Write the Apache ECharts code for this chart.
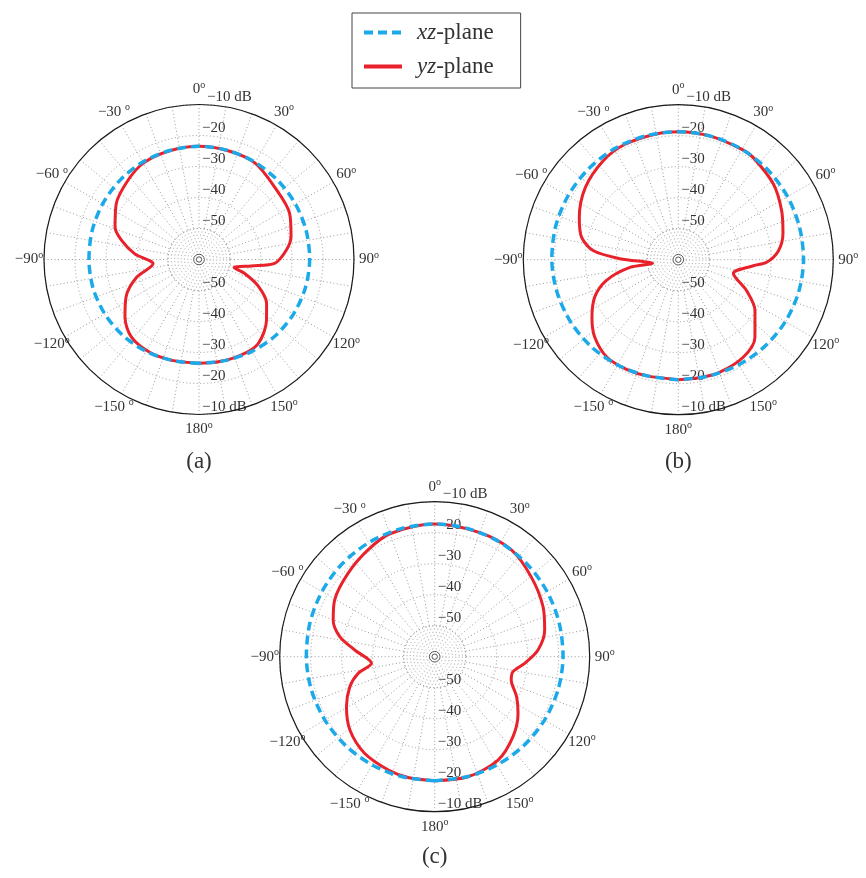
<!DOCTYPE html>
<html><head><meta charset="utf-8">
<script src="https://cdn.jsdelivr.net/npm/echarts@6/dist/echarts.min.js"></script>
<style>html,body{margin:0;padding:0;background:#fff}#c{width:866px;height:878px}</style>
</head><body><div id="c"></div>
<script>
// ---------------- data ----------------
const angleTicks = [-180,-150,-120,-90,-60,-30,0,30,60,90,120,150,180];
const angleTickLabels = ['180','\u2212150 ','\u2212120','\u221290','\u221260 ','\u221230 ','0','30','60','90','120','150','180'];
const radiusTicks = [-60,-50,-40,-30,-20,-10];
const radiusTickLabels = ['','\u221250','\u221240','\u221230','\u221220','\u221210 dB'];
const seriesNames = ['xz-plane','yz-plane'];
const captions = ['(a)','(b)','(c)'];

// xz-plane (dashed blue), sampled every 15 deg
const xzAngles = [-180,-165,-150,-135,-120,-105,-90,-75,-60,-45,-30,-15,0,15,30,45,60,75,90,105,120,135,150,165,180];
const xzA = [-26.5,-26.3,-25.8,-25.3,-24.9,-24.6,-24.5,-24.3,-24.1,-23.9,-23.7,-23.6,-23.5,-23.6,-23.8,-24.0,-24.1,-24.2,-24.3,-24.5,-24.8,-25.2,-25.8,-26.3,-26.5];
const xzB = [-21.3,-21.2,-20.8,-20.3,-19.9,-19.5,-19.2,-19.0,-18.9,-18.8,-18.7,-18.7,-18.7,-18.8,-18.9,-19.1,-19.3,-19.5,-19.6,-19.8,-20.1,-20.5,-20.9,-21.2,-21.3];
const xzC = [-20.0,-19.9,-19.7,-19.4,-19.1,-18.8,-18.6,-18.3,-18.0,-17.7,-17.5,-17.3,-17.2,-17.3,-17.5,-17.8,-18.1,-18.4,-18.6,-18.8,-19.1,-19.4,-19.7,-19.9,-20.0];

// yz-plane (solid red)
const yzAnglesA = [-180,-165,-152,-139,-128,-117,-106,-95.4,-85,-76,-69,-56,-42,-30,-15,0,15,30,46,63,76,84,93,97,103,107,114,123,132,145,157,170,180];
const yzA = [-26.5,-26.3,-26.1,-26.8,-29.7,-33.6,-39.0,-45.1,-39.2,-34.2,-31.0,-27.8,-25.7,-24.1,-23.7,-23.5,-23.7,-24.0,-26.2,-27.2,-29.4,-31.7,-35.6,-43.0,-48.4,-44.6,-39.2,-34.0,-30.7,-26.8,-26.3,-26.4,-26.5];
const yzAnglesB = [-180,-165,-155,-144,-133,-124,-114,-106,-99,-98,-89,-84,-77,-67,-52,-37,-25,-10,0,15,30,36,51.5,64.6,76,85,91.7,94.6,104,114.4,123.6,135.4,146.4,160,170,180];
const yzB = [-21.3,-21.2,-20.9,-21.0,-23.2,-26.4,-30.5,-35.9,-44.2,-51.6,-41.2,-32.5,-28.0,-25.3,-22.0,-19.9,-19.0,-18.8,-18.7,-18.8,-18.9,-19.1,-20.8,-23.1,-25.2,-27.6,-31.5,-35.7,-41.7,-35.8,-30.3,-24.8,-22.2,-21.3,-21.3,-21.3];
const yzAnglesC = [-180,-168,-158,-144,-131,-119.5,-109.4,-102.3,-96,-85.2,-78,-70.2,-60.5,-46,-32,-20,0,20,35.7,50.4,65.2,76.4,86.3,94.2,100.8,106.9,116,124.2,135.6,148.5,164.5,180];
const yzC = [-20.0,-20.1,-20.5,-21.5,-23.8,-27.3,-31.0,-34.7,-39.5,-34.1,-28.7,-25.2,-22.9,-21.2,-19.4,-17.8,-17.2,-17.4,-17.6,-19.6,-21.5,-23.5,-26.6,-30.9,-34.3,-34.2,-30.6,-27.5,-23.9,-20.9,-19.8,-20.0];

// ---------------- layout / style ----------------
const FONT = '"Liberation Serif", "DejaVu Serif", serif';
const TXT = '#333';
const BLUE = '#1ba9ea', RED = '#e8212b';
const GRID = '#9a9a9a';
const R = 155;
const plots = [
  {center:[199,259.5], xz:xzA, yzAng:yzAnglesA, yz:yzA, capY:462},
  {center:[678.3,259.7], xz:xzB, yzAng:yzAnglesB, yz:yzB, capY:462},
  {center:[434.7,656.7], xz:xzC, yzAng:yzAnglesC, yz:yzC, capY:857}
];

// angle label placement: centred on a circle of radius LABEL_R
const FS = 15, SUP = 10, LABEL_R = 170, ANG_MARGIN = -27;
const rA = R + ANG_MARGIN;
const ctx = document.createElement('canvas').getContext('2d');
function tw(t, size){ ctx.font = size + 'px "Liberation Serif"'; return ctx.measureText(t).width; }
const angRich = {};
angleTicks.forEach((v,k)=>{
  const th = v*Math.PI/180, s = Math.sin(th), c = Math.cos(th);
  const w = tw(angleTickLabels[k], FS) + tw('o', SUP);
  const d = LABEL_R - rA;
  let padL = 0, padR = 0;
  if (Math.abs(s) > 1e-6) { if (s > 0) padL = Math.max(0, d*s - w/2); else padR = Math.max(0, -d*s - w/2); }
  const n = {fontFamily:FONT, fontSize:FS, color:TXT, padding:[0,0,0,padL]};
  if (Math.abs(c) > 1e-6) n.lineHeight = 2*d*Math.abs(c);
  angRich['n'+k] = n;
  angRich['s'+k] = {fontFamily:FONT, fontSize:SUP, color:TXT, padding:[0,padR,9,0]};
});
function angFmt(v){
  const k = angleTicks.indexOf(Math.round(v));
  if (k < 0) return '';
  return '{n'+k+'|'+angleTickLabels[k]+'}{s'+k+'|o}';
}
function radFmt(v){ const k = radiusTicks.indexOf(Math.round(v)); return k < 0 ? '' : radiusTickLabels[k]; }
function radFmtTop(v){
  const k = radiusTicks.indexOf(Math.round(v));
  if (k < 0) return '';
  return v === -10 ? '{d|'+radiusTickLabels[k]+'}' : radiusTickLabels[k];
}

const polar = [], angleAxis = [], radiusAxis = [], series = [], graphic = [];
const dotted = {color:GRID, width:1, type:[1,2.5]};
plots.forEach((p,i)=>{
  const b = 4*i;
  polar.push({center:p.center, radius:[0,R]});
  polar.push({center:p.center, radius:[31,R]});
  polar.push({center:p.center, radius:[8,31]});
  polar.push({center:p.center, radius:[2.7,5.3]});
  // main (data) polar: 0 at top, clockwise
  angleAxis.push({polarIndex:b, type:'value', min:-180, max:180, interval:30, startAngle:270, clockwise:true, z:5,
    axisLine:{show:true, lineStyle:{color:'#1a1a1a', width:1.2}}, axisTick:{show:false}, splitLine:{show:false},
    axisLabel:{show:true, margin:ANG_MARGIN, formatter:angFmt, fontFamily:FONT, fontSize:FS, color:TXT, rich:angRich}});
  radiusAxis.push({polarIndex:b, type:'value', min:-60, max:-10, interval:10, z:1,
    axisLine:{show:false}, axisTick:{show:false}, splitLine:{show:true, lineStyle:dotted},
    axisLabel:{show:true, formatter:radFmt, margin:3, align:'left', verticalAlign:'bottom', fontFamily:FONT, fontSize:FS, color:TXT}});
  // spokes + upper dB labels
  angleAxis.push({polarIndex:b+1, type:'value', min:0, max:360, interval:10, startAngle:90, clockwise:true,
    axisLine:{show:false}, axisTick:{show:false}, axisLabel:{show:false}, splitLine:{show:true, lineStyle:dotted}});
  radiusAxis.push({polarIndex:b+1, type:'value', min:-50, max:-10, interval:10, z:1,
    axisLine:{show:false}, axisTick:{show:false}, splitLine:{show:false},
    axisLabel:{show:true, formatter:radFmtTop, margin:-3, align:'left', verticalAlign:'bottom', fontFamily:FONT, fontSize:FS, color:TXT,
      rich:{d:{fontFamily:FONT, fontSize:FS, color:TXT, padding:[0,0,0,5]}}}});
  // inner dotted rings
  angleAxis.push({polarIndex:b+2, type:'value', min:0, max:360, show:false});
  radiusAxis.push({polarIndex:b+2, type:'value', min:0, max:7, interval:1,
    axisLine:{show:false}, axisTick:{show:false}, axisLabel:{show:false}, splitLine:{show:true, lineStyle:dotted}});
  // small solid circles at the centre
  angleAxis.push({polarIndex:b+3, type:'value', min:0, max:360, show:false});
  radiusAxis.push({polarIndex:b+3, type:'value', min:0, max:1, interval:1,
    axisLine:{show:false}, axisTick:{show:false}, axisLabel:{show:false}, splitLine:{show:true, lineStyle:{color:'#555', width:1}}});

  series.push({name:seriesNames[1], type:'line', coordinateSystem:'polar', polarIndex:b, symbol:'none', smooth:0.3, z:2,
    data:p.yz.map((r,j)=>[r, p.yzAng[j]]), lineStyle:{color:RED, width:3}, itemStyle:{color:RED}});
  series.push({name:seriesNames[0], type:'line', coordinateSystem:'polar', polarIndex:b, symbol:'none', smooth:0.3, z:3,
    data:p.xz.map((r,j)=>[r, xzAngles[j]]), lineStyle:{color:BLUE, width:3.5, type:[9,5]}, itemStyle:{color:BLUE}});

  graphic.push({type:'text', x:p.center[0], y:p.capY, style:{text:captions[i], align:'center', verticalAlign:'middle', font:'23px "Liberation Serif"', fill:TXT}});
});

const option = {
  animation:false,
  backgroundColor:'#fff',
  legend:{data:seriesNames, orient:'vertical', left:352, top:13, padding:[8,27,10,10], itemWidth:38, itemHeight:14, itemGap:11,
    borderColor:'#444', borderWidth:1, lineStyle:{width:4}, itemStyle:{opacity:0},
    formatter:n=>'{i|'+n.split('-')[0]+'}{t|-plane}',
    textStyle:{fontFamily:FONT, fontSize:23, color:TXT, padding:[0,0,0,10],
      rich:{i:{fontFamily:FONT, fontSize:23, fontStyle:'italic', color:TXT}, t:{fontFamily:FONT, fontSize:23, color:TXT}}}},
  polar, angleAxis, radiusAxis, series, graphic
};
const chart = echarts.init(document.getElementById('c'), null, {renderer:'canvas'});
chart.setOption(option);
</script></body></html>
